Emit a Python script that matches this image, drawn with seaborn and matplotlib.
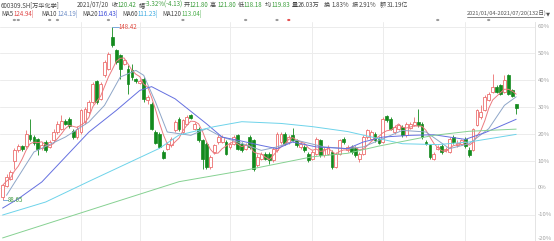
import numpy as np
import pandas as pd
import matplotlib
matplotlib.use("Agg")
import matplotlib.pyplot as plt
import seaborn as sns
from matplotlib.transforms import blended_transform_factory
from matplotlib.lines import Line2D

# ---------------- data ----------------
opens = [89.6, 93.4, 95.95, 101.95, 105.7, 107.2, 107.2, 110.9, 110.3, 109.5,
         106.5, 108.6, 106.9, 109.2, 112.05, 113.2, 115.7, 116.65, 112.3, 110.3,
         112.05, 115.5, 118.95, 122.4, 129.5, 123.55, 131.6, 133.9, 144.8, 140.2,
         138.5, 135.6, 133.9, 133.3, 130.2, 129.1, 130.45, 122.95, 121.8, 112.05,
         111.5, 105.15, 106.3, 107.45, 112.6, 116.65, 112.05, 114.9, 118.0, 113.2,
         113.2, 109.2, 108.0, 100.0, 105.15, 108.6, 108.6, 108.6, 106.9, 108.0,
         110.9, 108.0, 106.1, 110.3, 109.2, 100.55, 102.85, 104.6, 104.6, 102.3,
         105.7, 108.6, 111.5, 108.6, 110.9, 109.2, 106.9, 106.9, 104.6, 102.85,
         104.6, 109.2, 104.0, 104.6, 105.15, 100.0, 104.6, 109.75, 105.7, 106.9,
         106.5, 102.85, 104.6, 110.3, 109.75, 111.5, 109.75, 108.6, 117.6, 116.65,
         112.05, 113.2, 113.8, 110.9, 113.4, 114.35, 115.5, 114.9, 108.6, 107.45,
         102.85, 106.3, 107.2, 105.7, 105.15, 110.3, 107.45, 108.0, 109.75, 105.7,
         105.7, 114.35, 117.25, 119.5, 122.95, 125.85, 127.6, 128.15, 125.85, 131.6,
         126.4, 121.8]
closes = [93.65, 96.5, 98.25, 105.7, 107.2, 106.1, 111.5, 109.5, 108.4, 106.3,
          107.7, 105.7, 108.6, 112.05, 114.9, 115.7, 114.9, 114.1, 110.3, 113.2,
          119.5, 119.9, 122.4, 128.7, 122.4, 128.7, 136.2, 139.1, 141.95, 136.2,
          133.9, 136.8, 128.7, 131.0, 129.5, 129.8, 123.55, 124.1, 113.2, 108.4,
          106.9, 103.1, 108.0, 109.75, 115.5, 113.2, 116.1, 117.25, 116.9, 114.9,
          109.2, 102.85, 100.0, 103.4, 107.45, 110.3, 110.3, 104.6, 108.0, 110.3,
          106.3, 105.7, 107.7, 106.9, 99.4, 103.4, 104.6, 102.85, 102.3, 106.3,
          111.5, 111.5, 108.0, 110.3, 109.2, 107.45, 108.0, 105.7, 102.3, 105.15,
          109.75, 104.0, 106.3, 106.9, 100.0, 104.6, 109.2, 108.6, 106.9, 105.15,
          104.0, 104.6, 110.3, 112.6, 112.05, 109.2, 108.4, 116.65, 116.1, 113.2,
          113.8, 114.35, 110.9, 114.9, 114.9, 115.5, 114.35, 110.3, 108.0, 103.4,
          104.6, 106.9, 105.15, 106.3, 109.75, 108.6, 108.4, 109.2, 107.2, 104.0,
          113.2, 119.5, 118.95, 124.1, 125.3, 127.6, 125.85, 125.3, 129.9, 125.3,
          124.55, 120.42]
highs = [94.2, 97.7, 98.8, 106.5, 108.0, 107.7, 112.6, 116.65, 110.9, 110.0,
         108.6, 109.2, 109.2, 112.95, 115.7, 117.8, 116.4, 117.25, 113.2, 114.1,
         119.9, 120.7, 122.95, 129.3, 129.9, 129.3, 136.8, 139.65, 148.42, 140.8,
         139.1, 137.35, 135.05, 135.6, 130.7, 130.45, 131.0, 124.7, 122.4, 112.6,
         112.05, 105.7, 108.6, 110.3, 116.1, 117.25, 116.65, 117.8, 118.4, 115.5,
         113.8, 109.75, 108.6, 104.0, 108.0, 111.5, 110.9, 109.2, 108.6, 110.9,
         111.5, 108.6, 108.4, 110.9, 109.75, 104.6, 105.15, 105.15, 105.15, 106.9,
         112.05, 112.05, 112.05, 110.9, 113.4, 109.75, 108.6, 107.45, 105.15, 105.7,
         110.3, 109.75, 106.9, 107.45, 105.7, 105.15, 109.75, 110.3, 107.45, 107.45,
         107.2, 105.15, 110.9, 113.2, 112.6, 112.05, 110.3, 117.25, 118.0, 117.25,
         114.35, 114.9, 114.35, 115.5, 115.5, 117.25, 119.9, 115.5, 109.2, 108.0,
         105.15, 107.45, 108.0, 106.9, 110.3, 110.9, 109.2, 109.75, 110.3, 106.9,
         113.4, 120.1, 121.25, 124.7, 125.85, 132.2, 128.15, 128.7, 131.6, 132.2,
         127.0, 121.8]
lows = [88.65, 93.1, 95.4, 99.4, 105.15, 105.4, 106.5, 108.8, 107.7, 104.2,
        105.7, 105.15, 106.5, 108.6, 111.5, 112.6, 114.35, 113.4, 109.75, 109.75,
        111.5, 114.9, 118.4, 121.8, 121.8, 122.95, 131.0, 133.3, 141.4, 135.6,
        130.45, 135.05, 125.3, 129.9, 129.1, 128.6, 122.4, 121.8, 112.6, 108.0,
        106.5, 102.85, 105.7, 106.9, 112.05, 112.3, 111.5, 114.35, 116.65, 112.6,
        108.6, 99.4, 99.4, 99.4, 104.6, 108.0, 108.4, 104.0, 106.3, 107.45,
        105.7, 105.15, 105.7, 106.3, 98.5, 100.0, 102.3, 102.3, 101.1, 101.7,
        105.15, 108.0, 107.45, 108.0, 108.6, 106.9, 106.3, 105.15, 101.7, 102.3,
        104.0, 103.4, 103.4, 104.0, 99.4, 99.6, 104.0, 108.0, 105.15, 104.6,
        103.4, 101.7, 104.2, 109.75, 109.2, 108.6, 108.0, 108.4, 115.5, 112.6,
        111.5, 112.6, 110.3, 110.3, 112.95, 114.1, 113.8, 109.75, 107.45, 102.85,
        102.3, 105.7, 104.6, 105.15, 104.9, 108.0, 106.9, 107.7, 106.5, 103.4,
        105.4, 114.1, 116.65, 119.2, 122.6, 125.6, 125.6, 124.7, 125.6, 124.9,
        124.1, 118.18]

# moving-average lines (candle index, price)
ma10_idx = [1, 8, 16, 22, 26, 30, 34, 36, 39, 42, 48, 52, 56, 60, 66, 70, 75, 82,
            88, 92, 97, 102, 108, 114, 119, 124, 128, 131]
ma10_val = [90.2, 105.15, 110.3, 115.5, 121.25, 131.0, 133.3, 131.6, 122.4, 112.05,
            110.9, 113.2, 110.3, 108.6, 105.7, 106.9, 109.2, 106.9, 106.3, 106.9,
            109.75, 112.6, 112.05, 106.3, 108.0, 113.2, 121.25, 124.19]
ma20_idx = [0, 4, 10, 22, 29, 35, 38, 44, 52, 56, 60, 66, 70, 74, 80, 88, 92, 97,
            104, 110, 114, 118, 123, 127, 131]
ma20_val = [85.8, 89.0, 94.8, 112.0, 119.5, 126.4, 127.7, 123.5, 114.9, 110.3, 109.2,
            107.4, 106.3, 108.6, 106.9, 106.3, 108.6, 110.3, 110.9, 111.1, 110.3,
            109.5, 111.8, 114.1, 116.43]
ma60_idx = [0, 11, 22, 40, 45, 54, 61, 71, 79, 88, 96, 102, 111, 119, 131]
ma60_val = [83.4, 87.9, 95.0, 106.4, 111.0, 113.9, 115.6, 115.0, 113.9, 112.2,
            109.75, 108.0, 107.7, 108.6, 111.23]
ma120_idx = [0, 25, 45, 62, 79, 88, 96, 110, 119, 131]
ma120_val = [75.5, 86.3, 94.9, 98.9, 103.5, 104.7, 107.2, 110.9, 112.3, 113.04]

month_start_idx = [20, 35, 58, 79, 97, 118]
pct_ticks = [60, 50, 40, 30, 20, 10, 0, -10, -20]
base_price = 92.76
event_idx = [3, 4, 12, 14, 27, 46, 62, 70, 73, 111, 124]

# ---------------- style ----------------
sns.set_theme(style="white")
plt.rcParams['font.family'] = ['Noto Sans CJK SC', 'DejaVu Sans']

W, H = 554, 241
fig = plt.figure(figsize=(W / 100, H / 100), dpi=100)
ax = fig.add_axes([0, 0, 535 / W, 1 - 22 / H])

UP = "#ec6f6f"
DOWN = "#138a1d"
GRID = "#ececec"

n = len(closes)
assert len(opens) == n and len(highs) == n and len(lows) == n
idx = np.arange(n)
df = pd.DataFrame({"i": idx, "o": opens, "h": highs, "l": lows, "c": closes})
df["up"] = df["c"] >= df["o"]

YLO, YHI = 74.44, 150.0

# grid
for p in pct_ticks:
    ax.axhline(base_price * (1 + p / 100), color=GRID, lw=0.7, zorder=0)
for m in month_start_idx:
    ax.axvline(m, color=GRID, lw=0.7, zorder=0)

# candles
bw = 0.72
for _, r in df.iterrows():
    col = UP if r["up"] else DOWN
    ax.vlines(r["i"], r["l"], r["h"], color=col, lw=0.6, zorder=2)
    lo = min(r["o"], r["c"])
    hgt = max(abs(r["c"] - r["o"]), 0.18)
    if r["up"]:
        ax.bar(r["i"], hgt, bottom=lo, width=bw, facecolor="white", edgecolor=col,
               linewidth=0.6, zorder=3)
    else:
        ax.bar(r["i"], hgt, bottom=lo, width=bw, facecolor=col, edgecolor=col,
               linewidth=0.5, zorder=3)

# moving averages
ma5 = df["c"].rolling(5, min_periods=1).mean()
sns.lineplot(x=idx, y=ma5, color="#ec7b80", lw=0.7, ax=ax, zorder=4)
sns.lineplot(x=ma10_idx, y=ma10_val, color="#8ea6c8", lw=0.7, ax=ax, zorder=4)
sns.lineplot(x=ma20_idx, y=ma20_val, color="#6570e0", lw=0.7, ax=ax, zorder=4)
sns.lineplot(x=ma60_idx, y=ma60_val, color="#6dd3ea", lw=0.7, ax=ax, zorder=4)
sns.lineplot(x=ma120_idx, y=ma120_val, color="#86d192", lw=0.7, ax=ax, zorder=4)

# extremes annotations
hi_i = int(np.argmax(highs))
lo_i = int(np.argmin(lows))
ax.plot([hi_i, hi_i + 1.6], [highs[hi_i], highs[hi_i]], color="#6a9fd8", lw=0.6, zorder=5)
ax.text(hi_i + 1.6, highs[hi_i], f"{highs[hi_i]:.2f}", color="#e0463c", fontsize=4.4,
        va="center", ha="left", zorder=5)
ax.plot([lo_i, lo_i + 1.4], [lows[lo_i], lows[lo_i]], color="#6a9fd8", lw=0.6, zorder=5)
ax.text(lo_i + 1.4, lows[lo_i], f"{lows[lo_i]:.2f}", color="#3f9a3f", fontsize=4.4,
        va="center", ha="left", zorder=5)

ax.set_xlim(-0.66, 135.8)
ax.set_ylim(YLO, YHI)
ax.set_xticks([])
ax.set_yticks([])
ax.set_xlabel("")
ax.set_ylabel("")
for s in ["top", "left", "bottom"]:
    ax.spines[s].set_visible(False)
ax.spines["right"].set_color("#e4e4e4")
ax.spines["right"].set_linewidth(0.7)
ax.patch.set_alpha(0)

# right percentage labels
tr = blended_transform_factory(ax.transAxes, ax.transData)
for p in pct_ticks:
    yv = base_price * (1 + p / 100)
    if yv < YLO + 1.0:
        ax.text(1.005, YLO, f"{p}%", transform=tr, ha="left", va="bottom",
                fontsize=4.3, color="#a0a0a0", clip_on=False)
    else:
        ax.text(1.005, yv, f"{p}%", transform=tr, ha="left", va="center",
                fontsize=4.3, color="#a0a0a0", clip_on=False)

# event dots above plot
for e in event_idx:
    xf = (2.6 + 3.92 * e) / W
    fig.patches.append(plt.Circle((xf, 1 - 20 / H), 0.0016, transform=fig.transFigure,
                                  color="#e45050" if e == 73 else "#9a9a9a"))

# header texts
def T(x, y, s, c="#444444", fs=4.4, **kw):
    fig.text(x / W, 1 - y / H, s, color=c, fontsize=fs, va="center", ha="left", **kw)

G = "#3a9d3a"
D = "#444444"
row1 = [("600309.SH[万华化学]", 1, D), ("2021/07/20", 77, D),
        ("收", 112, D), ("120.42", 118, G), ("幅", 139, D),
        ("-3.32%(-4.13)", 145, G), ("开", 184, D), ("121.80", 190, G),
        ("高", 210, D), ("121.80", 217, G), ("低", 238, D),
        ("118.18", 244, G), ("均", 265, D), ("119.83", 272, G),
        ("量", 292, D), ("26.03万", 298, D), ("换", 324, D),
        ("1.83%", 331, D), ("振", 352, D), ("2.91%", 359, D),
        ("额", 380, D), ("31.19亿", 387, D)]
for s, x, c in row1:
    T(x, 5, s, c)

row2 = [("MA5", 1, D), ("124.94|", 14, "#e04848"), ("MA10", 41, D),
        ("124.19|", 57, "#6f8fc8"), ("MA20", 82, D), ("116.43|", 98, "#3848d8"),
        ("MA60", 122, D), ("111.23|", 138, "#38a8e0"), ("MA120", 162, D),
        ("113.04|", 182, "#4aae4a")]
for s, x, c in row2:
    T(x, 14, s, c)

T(467, 13.5, "2021/01/04-2021/07/20(132日)", "#555555", fs=4.1)
fig.add_artist(Line2D([467 / W, 543 / W], [1 - 17.0 / H, 1 - 17.0 / H], color="#555555",
                      lw=0.5, transform=fig.transFigure))
T(546, 13.5, "▼", "#555555", fs=3.8, family=["DejaVu Sans"])

fig.savefig("out.png", dpi=100)
